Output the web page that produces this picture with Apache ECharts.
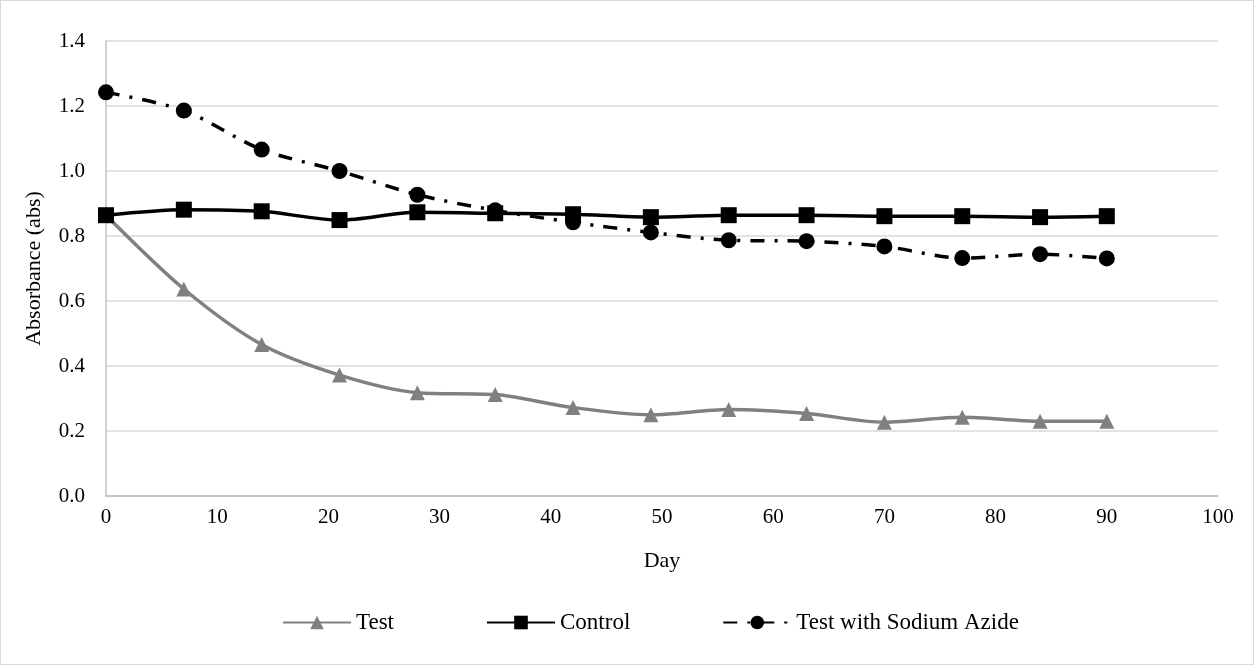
<!DOCTYPE html>
<html><head><meta charset="utf-8">
<script src="https://cdn.jsdelivr.net/npm/echarts@6/dist/echarts.min.js"></script>
<style>html,body{margin:0;padding:0;background:#fff}#c{width:1252px;height:663px;border:1px solid #d9d9d9}</style>
</head><body><div id="c"></div>
<script>
const days = [0,7,14,21,28,35,42,49,56,63,70,77,84,90];
const testVals = [0.864,0.637,0.466,0.372,0.318,0.312,0.272,0.250,0.266,0.254,0.227,0.242,0.230,0.230];
const controlVals = [0.864,0.881,0.876,0.849,0.873,0.870,0.867,0.858,0.864,0.864,0.861,0.861,0.858,0.861];
const azideVals = [1.242,1.186,1.066,1.000,0.927,0.879,0.842,0.811,0.787,0.784,0.768,0.732,0.744,0.731];
const font = 'Liberation Serif';
const pair = v => days.map((d,i)=>[d,v[i]]);
const chart = echarts.init(document.getElementById('c'));
chart.setOption({
  animation:false,
  textStyle:{fontFamily:font,color:'#000'},
  grid:{left:105,right:35,top:40,bottom:168},
  xAxis:{type:'value',min:0,max:100,interval:10,name:'Day',nameLocation:'middle',nameGap:54,
    nameTextStyle:{fontFamily:font,fontSize:22,color:'#000'},
    axisLine:{lineStyle:{color:'#bfbfbf',width:1.5}},axisTick:{show:false},splitLine:{show:false},
    axisLabel:{fontFamily:font,fontSize:21,color:'#000',margin:11}},
  yAxis:{type:'value',min:0,max:1.4,interval:0.2,name:'Absorbance (abs)',nameLocation:'middle',nameGap:61,
    nameTextStyle:{fontFamily:font,fontSize:22,color:'#000'},
    axisLine:{show:true,lineStyle:{color:'#bfbfbf',width:1.5}},axisTick:{show:false},
    splitLine:{lineStyle:{color:'#d9d9d9',width:1.5}},
    axisLabel:{fontFamily:font,fontSize:21,color:'#000',margin:21,formatter:v=>v.toFixed(1)}},
  legend:{bottom:25,left:276,itemWidth:68,itemHeight:17,itemGap:92,
    textStyle:{fontFamily:font,fontSize:23,color:'#000'},
    data:['Test','Control','Test with Sodium Azide']},
  series:[
    {name:'Test',type:'line',data:pair(testVals),smooth:0.3,symbol:'triangle',symbolSize:15,
      lineStyle:{color:'#808080',width:3.5},itemStyle:{color:'#808080'},z:2},
    {name:'Control',type:'line',data:pair(controlVals),smooth:0.3,symbol:'rect',symbolSize:16,
      lineStyle:{color:'#000',width:3.5},itemStyle:{color:'#000'},z:3},
    {name:'Test with Sodium Azide',type:'line',data:pair(azideVals),smooth:0.3,symbol:'circle',symbolSize:16,
      lineStyle:{color:'#000',width:3.5,type:[14,10,3,10]},itemStyle:{color:'#000'},z:4}
  ]
});
</script></body></html>
